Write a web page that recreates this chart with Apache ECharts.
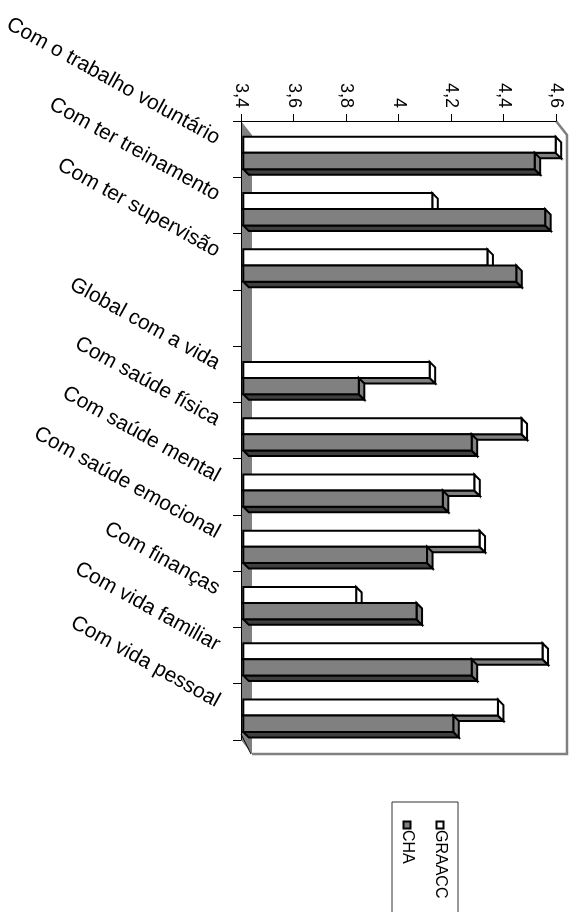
<!DOCTYPE html>
<html>
<head>
<meta charset="utf-8">
<script src="https://cdn.jsdelivr.net/npm/echarts@6/dist/echarts.min.js"></script>
<style>
  html, body { margin: 0; padding: 0; background: #ffffff; }
  #chart { width: 582px; height: 912px; }
</style>
</head>
<body>
<div id="chart"></div>
<script>
// Satisfaction scores, one band per item (the fourth band is a blank spacer)
const categories = [
  'Com o trabalho voluntário',
  'Com ter treinamento',
  'Com ter supervisão',
  '',
  'Global com a vida',
  'Com saúde física',
  'Com saúde mental',
  'Com saúde emocional',
  'Com finanças',
  'Com vida familiar',
  'Com vida pessoal'
];
const seriesNames = ['GRAACC', 'CHA'];
const graacc = [4.59, 4.12, 4.33, null, 4.11, 4.46, 4.28, 4.30, 3.83, 4.54, 4.37];
const cha    = [4.51, 4.55, 4.44, null, 3.84, 4.27, 4.16, 4.10, 4.06, 4.27, 4.20];

// Value axis ticks and their printed labels
const tickValues = [3.4, 3.6, 3.8, 4.0, 4.2, 4.4, 4.6];
const tickLabels = ['3,4', '3,6', '3,8', '4', '4,2', '4,4', '4,6'];
const VALUE_MIN = 3.4;
const VALUE_MAX = 4.6;
const VALUE_STEP = 0.2;

// Plot frame
const GRID = { left: 241, top: 121, width: 315, height: 619 };
const BOX_DX = 11, BOX_DY = 14;      // depth of the 3D box
const BAR_SHIFT_X = 2.3;            // bars sit slightly behind the front plane
const BAR_DX = 5.5, BAR_DY = 5.5;   // depth of each bar
const FONT = '"Liberation Sans", Arial, sans-serif';

const barLooks = [
  { front: '#ffffff', side: '#ffffff', bottom: '#808080', top: -0.219, h: 0.285 },
  { front: '#808080', side: '#808080', bottom: '#404040', top: 0.066, h: 0.29 }
];

function toData(arr) {
  const out = [];
  arr.forEach((v, i) => { if (v != null) out.push([v, i]); });
  return out;
}

function makeRender(look) {
  return function (params, api) {
    const idx = api.value(1);
    const base = api.coord([VALUE_MIN, idx]);
    const end = api.coord([api.value(0), idx]);
    const band = api.size([0, 1])[1];
    const x0 = base[0] + BAR_SHIFT_X;
    const x1 = end[0] + BAR_SHIFT_X;
    const y0 = base[1] + band * look.top;
    const y1 = y0 + band * look.h;
    const stroke = { stroke: '#000000', lineWidth: 2, lineJoin: 'miter' };
    return {
      type: 'group',
      children: [
        {
          type: 'polygon',
          shape: { points: [[x0, y1], [x1, y1], [x1 + BAR_DX, y1 + BAR_DY], [x0 + BAR_DX, y1 + BAR_DY]] },
          style: Object.assign({ fill: look.bottom }, stroke)
        },
        {
          type: 'polygon',
          shape: { points: [[x1, y0], [x1 + BAR_DX, y0 + BAR_DY], [x1 + BAR_DX, y1 + BAR_DY], [x1, y1]] },
          style: Object.assign({ fill: look.side }, stroke)
        },
        {
          type: 'rect',
          shape: { x: x0, y: y0, width: x1 - x0, height: y1 - y0 },
          style: Object.assign({ fill: look.front }, stroke)
        }
      ]
    };
  };
}

const L = GRID.left, T = GRID.top, R = GRID.left + GRID.width, B = GRID.top + GRID.height;

const frame = [
  {
    type: 'polygon', z: 0, silent: true,
    shape: { points: [[L, T], [L + BOX_DX, T + BOX_DY], [L + BOX_DX, B + BOX_DY], [L, B]] },
    style: { fill: '#808080' }
  },
  {
    type: 'polyline', z: 0, silent: true,
    shape: { points: [[R, T], [R + BOX_DX, T + BOX_DY], [R + BOX_DX, B + BOX_DY], [L + BOX_DX, B + BOX_DY]] },
    style: { stroke: '#808080', lineWidth: 2.5, fill: null }
  },
  {
    type: 'line', z: 0, silent: true,
    shape: { x1: L, y1: B - 6, x2: L + BOX_DX - 1, y2: B + BOX_DY },
    style: { stroke: '#000000', lineWidth: 1 }
  }
];

// Legend, turned a quarter clockwise like the rest of the chart
const legend = [
  {
    type: 'rect', z: 5, silent: true,
    shape: { x: 392, y: 802, width: 66, height: 140 },
    style: { fill: '#ffffff', stroke: '#333333', lineWidth: 1 }
  },
  {
    type: 'rect', z: 6, silent: true,
    shape: { x: 436.5, y: 821.5, width: 7, height: 7 },
    style: { fill: '#ffffff', stroke: '#000000', lineWidth: 2 }
  },
  {
    type: 'text', z: 6, silent: true, x: 440.5, y: 830, rotation: -Math.PI / 2,
    style: { text: seriesNames[0], font: '16px ' + FONT, fill: '#000000', align: 'left', verticalAlign: 'middle' }
  },
  {
    type: 'rect', z: 6, silent: true,
    shape: { x: 403.5, y: 821.5, width: 7, height: 7 },
    style: { fill: '#808080', stroke: '#000000', lineWidth: 2 }
  },
  {
    type: 'text', z: 6, silent: true, x: 407.5, y: 830, rotation: -Math.PI / 2,
    style: { text: seriesNames[1], font: '16px ' + FONT, fill: '#000000', align: 'left', verticalAlign: 'middle' }
  }
];

const chart = echarts.init(document.getElementById('chart'), null, { renderer: 'canvas' });

chart.setOption({
  animation: false,
  backgroundColor: '#ffffff',
  grid: { left: GRID.left, top: GRID.top, width: GRID.width, height: GRID.height, containLabel: false },
  xAxis: {
    type: 'value',
    position: 'top',
    min: VALUE_MIN,
    max: VALUE_MAX,
    interval: VALUE_STEP,
    axisLine: { show: true, lineStyle: { color: '#000000', width: 1 } },
    axisTick: { show: true, length: 7, lineStyle: { color: '#000000' } },
    splitLine: { show: false },
    axisLabel: { show: false }
  },
  yAxis: {
    type: 'category',
    inverse: true,
    data: categories,
    axisLine: { show: true, lineStyle: { color: '#000000', width: 1 } },
    axisTick: { show: true, length: 8, lineStyle: { color: '#000000' } },
    axisLabel: {
      rotate: -29,
      margin: 28,
      align: 'right',
      verticalAlign: 'bottom',
      lineHeight: 22,
      color: '#000000',
      fontSize: 21,
      fontFamily: FONT,
      interval: 0
    }
  },
  series: [
    {
      name: seriesNames[0],
      type: 'custom',
      z: 3,
      renderItem: makeRender(barLooks[0]),
      encode: { x: 0, y: 1 },
      data: toData(graacc)
    },
    {
      name: seriesNames[1],
      type: 'custom',
      z: 4,
      renderItem: makeRender(barLooks[1]),
      encode: { x: 0, y: 1 },
      data: toData(cha)
    }
  ]
});

// Value tick labels, read top-to-bottom, placed through the value axis scale
const tickTexts = tickValues.map((v, i) => ({
  type: 'text', z: 6, silent: true,
  x: chart.convertToPixel({ xAxisIndex: 0 }, v),
  y: T - 13,
  rotation: -Math.PI / 2,
  style: { text: tickLabels[i], font: '18px ' + FONT, fill: '#000000', align: 'right', verticalAlign: 'middle' }
}));

chart.setOption({ graphic: frame.concat(legend, tickTexts) });
</script>
</body>
</html>
